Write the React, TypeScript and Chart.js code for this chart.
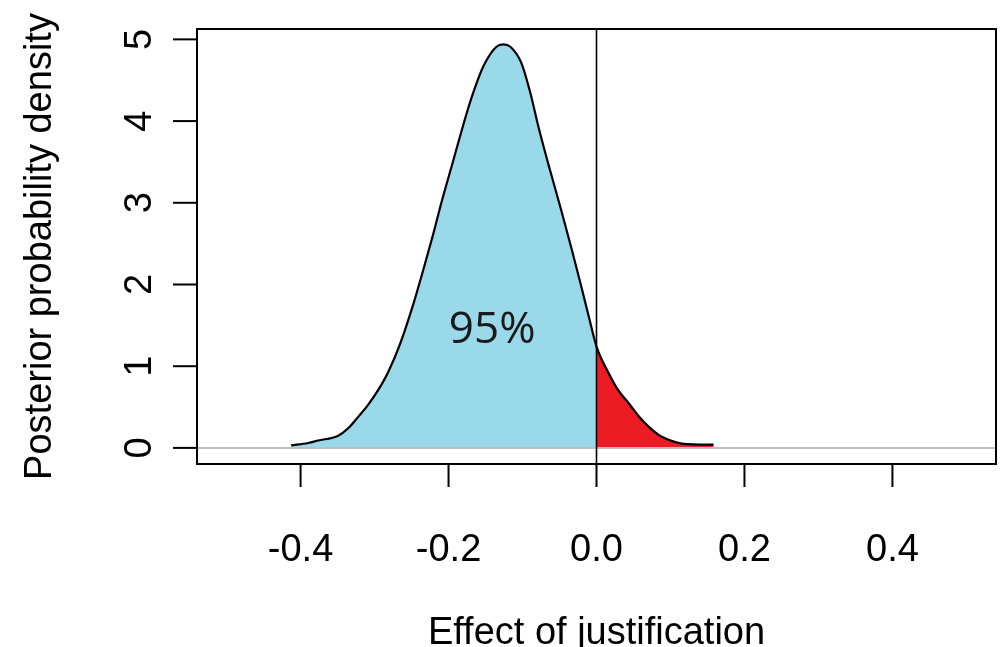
import React, { useEffect, useRef } from "react";
import { Chart, registerables } from "chart.js";

Chart.register(...registerables);

// Posterior density of the effect of justification
const effectValues = [
  -0.4127, -0.3897, -0.3762, -0.3491, -0.3356, -0.3221, -0.3085, -0.295, -0.2815,
  -0.2656, -0.2476, -0.2341, -0.2206, -0.2097, -0.1935, -0.1827, -0.1691, -0.1529,
  -0.1353, -0.1258, -0.1164, -0.1015, -0.0893, -0.0785, -0.065, -0.0474,
  -0.0338, -0.0221, -0.0108, 0.0, 0.0162, 0.0298, 0.0433, 0.0568, 0.0704, 0.0839,
  0.0974, 0.1177, 0.1583,
];
const densityValues = [
  0.03, 0.06, 0.09, 0.15, 0.24, 0.38, 0.53, 0.71, 0.93,
  1.27, 1.76, 2.18, 2.62, 3.0, 3.52, 3.87, 4.28, 4.67,
  4.91, 4.94, 4.91, 4.71, 4.34, 3.93, 3.47, 2.9,
  2.44, 2.03, 1.62, 1.24, 0.92, 0.7, 0.55, 0.39, 0.26, 0.16,
  0.1, 0.05, 0.04,
];

const xTickValues = [-0.4, -0.2, 0, 0.2, 0.4];
const xTickLabels = ["-0.4", "-0.2", "0.0", "0.2", "0.4"];
const yTickValues = [0, 1, 2, 3, 4, 5];
const yTickLabels = ["0", "1", "2", "3", "4", "5"];
const xLimits = [-0.54, 0.54];
const yLimits = [-0.197, 5.127];
const xTitle = "Effect of justification";
const yTitle = "Posterior probability density";
const annotationText = "95%";
const annotationPosition = [-0.141, 1.44];

const BLUE = "#9AD9EA";
const RED = "#ED1C24";

const axisFont = "38px 'Liberation Sans', Arial, sans-serif";

const rAxesPlugin = {
  id: "rAxes",
  afterDraw(chart: any) {
    const { ctx, chartArea } = chart;
    const xs = chart.scales.x;
    const ys = chart.scales.y;
    const { left, right, top, bottom } = chartArea;
    ctx.save();

    // grey horizontal line at 0
    const y0 = ys.getPixelForValue(0);
    ctx.strokeStyle = "#BEBEBE";
    ctx.lineWidth = 2;
    ctx.beginPath();
    ctx.moveTo(left, y0);
    ctx.lineTo(right, y0);
    ctx.stroke();

    // vertical line at 0
    const x0 = xs.getPixelForValue(0);
    ctx.strokeStyle = "#000";
    ctx.lineWidth = 1.6;
    ctx.beginPath();
    ctx.moveTo(x0, top);
    ctx.lineTo(x0, bottom);
    ctx.stroke();

    // box
    ctx.lineWidth = 2;
    ctx.strokeRect(left, top, right - left, bottom - top);

    // x axis ticks & labels
    ctx.fillStyle = "#000";
    ctx.font = axisFont;
    ctx.textAlign = "center";
    ctx.textBaseline = "alphabetic";
    xTickValues.forEach((v, i) => {
      const px = xs.getPixelForValue(v);
      ctx.beginPath();
      ctx.moveTo(px, bottom);
      ctx.lineTo(px, bottom + 23);
      ctx.stroke();
      ctx.fillText(xTickLabels[i], px, 561);
    });

    // y axis ticks & labels (rotated)
    yTickValues.forEach((v, i) => {
      const py = ys.getPixelForValue(v);
      ctx.beginPath();
      ctx.moveTo(left - 24, py);
      ctx.lineTo(left, py);
      ctx.stroke();
      ctx.save();
      ctx.translate(151, py);
      ctx.rotate(-Math.PI / 2);
      ctx.fillText(yTickLabels[i], 0, 0);
      ctx.restore();
    });

    // titles
    ctx.fillText(xTitle, (left + right) / 2, 644);
    ctx.save();
    ctx.translate(51, (top + bottom) / 2);
    ctx.rotate(-Math.PI / 2);
    ctx.fillText(yTitle, 0, 0);
    ctx.restore();

    // annotation
    ctx.font = "44px 'Open Sans', 'DejaVu Sans', sans-serif";
    ctx.fillStyle = "#1a1a1a";
    ctx.textBaseline = "middle";
    ctx.fillText(
      annotationText,
      xs.getPixelForValue(annotationPosition[0]),
      ys.getPixelForValue(annotationPosition[1])
    );

    ctx.restore();
  },
};

export default function App() {
  const canvasRef = useRef<HTMLCanvasElement | null>(null);

  useEffect(() => {
    const canvas = canvasRef.current;
    if (!canvas) return;
    const allPoints = effectValues.map((x, i) => ({ x, y: densityValues[i] }));
    const leftPoints = allPoints.filter((p) => p.x <= 0);
    const rightPoints = allPoints.filter((p) => p.x >= 0);

    const chart = new Chart(canvas, {
      type: "line",
      data: {
        datasets: [
          {
            data: allPoints,
            borderColor: "#000",
            borderWidth: 2.2,
            pointRadius: 0,
            fill: false,
            cubicInterpolationMode: "monotone",
            order: 0,
          },
          {
            data: leftPoints,
            borderWidth: 0,
            borderColor: "rgba(0,0,0,0)",
            backgroundColor: BLUE,
            pointRadius: 0,
            fill: "origin",
            cubicInterpolationMode: "monotone",
            order: 1,
          },
          {
            data: rightPoints,
            borderWidth: 0,
            borderColor: "rgba(0,0,0,0)",
            backgroundColor: RED,
            pointRadius: 0,
            fill: "origin",
            cubicInterpolationMode: "monotone",
            order: 2,
          },
        ],
      },
      options: {
        responsive: false,
        maintainAspectRatio: false,
        animation: false,
        devicePixelRatio: 1,
        layout: { padding: { left: 197, right: 6, top: 29, bottom: 183 } },
        plugins: { legend: { display: false }, tooltip: { enabled: false } },
        scales: {
          x: { type: "linear", min: xLimits[0], max: xLimits[1], display: false },
          y: { type: "linear", min: yLimits[0], max: yLimits[1], display: false },
        },
      },
      plugins: [rAxesPlugin],
    });
    return () => chart.destroy();
  }, []);

  return (
    <div style={{ position: "fixed", left: 0, top: 0, width: 1002, height: 647, background: "#fff" }}>
      <canvas ref={canvasRef} width={1002} height={647} style={{ display: "block", width: 1002, height: 647 }} />
    </div>
  );
}
